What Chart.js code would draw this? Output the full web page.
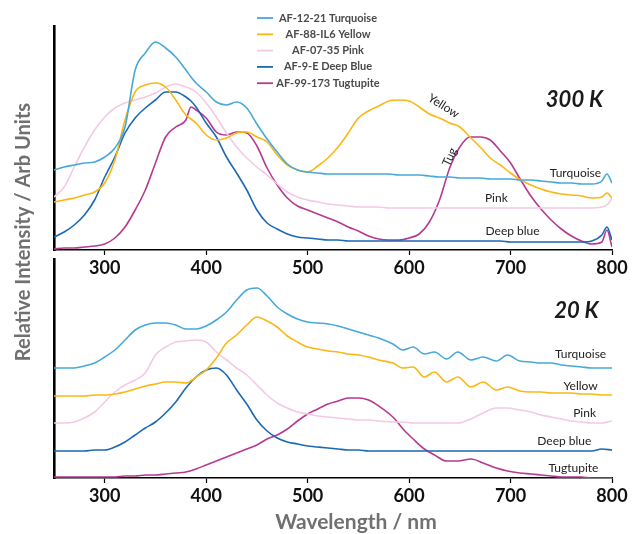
<!DOCTYPE html>
<html lang="en">
<head>
    <meta charset="UTF-8">
    <title>Luminescence spectra 300 K / 20 K</title>
    <script src="https://cdn.jsdelivr.net/npm/chart.js@4.4.0/dist/chart.umd.min.js"></script>
    <style>
        body { margin: 0; background: #fff; }
        #wrap { position: relative; width: 632px; height: 534px; }
        canvas { position: absolute; left: 0; top: 0; }
    </style>
</head>
<body>

<div id="wrap">
    <canvas id="low-chart" width="632" height="534"></canvas>
    <canvas id="top-chart" width="632" height="282"></canvas>
</div>

<script>

    // ---- data (arbitrary units) ----
    const xTicks = [300, 400, 500, 600, 700, 800];

    const seriesNames = ['AF-12-21 Turquoise', 'AF-88-IL6 Yellow', 'AF-07-35 Pink', 'AF-9-E Deep Blue', 'AF-99-173 Tugtupite'];

    // 300 K
    const wlTop = [250, 260, 270, 280, 290, 300, 310, 320, 330, 340, 350, 360, 370, 380, 385, 390,
        400, 410, 420, 430, 440, 450, 460, 470, 480, 490, 500, 510, 520, 530, 540, 550, 560, 570, 580, 590,
        600, 610, 620, 630, 640, 650, 660, 670, 680, 690, 700, 710, 720, 730, 740, 750, 760, 770, 780, 790, 795, 800];
    const turqTop = [80, 83, 85, 87, 88, 93, 102, 123, 180, 197, 208, 202, 193, 180, 173, 167,
        158, 148, 145, 148, 142, 126, 111, 98, 86, 80, 78, 77, 76, 76, 76, 76, 76, 76, 76, 75,
        75, 75, 74, 73, 73, 72, 72, 72, 71, 71, 71, 70, 70, 69, 68, 67, 67, 66, 66, 69, 76, 67];
    const yellowTop = [48, 50, 52, 55, 58, 67, 90, 130, 158, 165, 167, 163, 150, 135, 131, 127,
        115, 110, 112, 117, 118, 113, 108, 95, 85, 80, 78, 84, 92, 103, 117, 132, 139, 144, 149, 150,
        149, 143, 136, 132, 127, 123, 113, 103, 92, 85, 77, 70, 65, 61, 58, 56, 55, 54, 52, 53, 57, 52];
    const pinkTop = [53, 63, 83, 103, 120, 133, 142, 147, 150, 153, 157, 163, 166, 163, 161, 158,
        147, 133, 117, 103, 92, 83, 75, 66, 58, 53, 50, 48, 46, 45, 44, 43, 43, 43, 42, 42,
        42, 42, 42, 42, 42, 42, 42, 42, 42, 42, 42, 42, 42, 42, 42, 42, 42, 42, 42, 43, 45, 52];
    const blueTop = [13, 18, 25, 35, 50, 73, 93, 117, 132, 142, 150, 158, 158, 153, 149, 143,
        127, 113, 93, 77, 60, 40, 27, 21, 16, 13, 12, 11, 10, 10, 9, 9, 9, 9, 9, 9,
        9, 9, 9, 9, 9, 9, 9, 9, 9, 9, 8, 8, 8, 8, 8, 8, 8, 8, 9, 15, 23, 10];
    const tugTop = [1, 2, 2, 3, 4, 6, 12, 23, 40, 60, 87, 113, 123, 130, 143, 140,
        132, 118, 115, 118, 117, 104, 82, 65, 52, 44, 40, 36, 32, 28, 23, 19, 14, 11, 10, 10,
        12, 16, 28, 50, 82, 103, 113, 113, 110, 99, 87, 70, 54, 41, 30, 21, 14, 9, 6, 8, 20, 3];

    // 20 K
    const wlLow = [250, 260, 270, 280, 290, 300, 310, 320, 330, 340, 350, 360, 370, 380, 390,
        400, 410, 420, 430, 440, 450, 460, 470, 480, 490, 500, 510, 520, 530, 540, 550, 560, 570,
        584, 594, 604, 615, 625, 637, 648, 661, 673, 686, 697, 709,
        720, 730, 740, 750, 760, 770, 780, 790, 800];
    const turqLow = [110, 110, 110, 112, 115, 121, 128, 138, 148, 153, 155, 155, 153, 149, 149,
        152, 158, 166, 178, 188, 190, 182, 171, 164, 159, 156, 155, 154, 152, 149, 146, 143, 140,
        134, 128, 131, 124, 126, 119, 126, 118, 121, 117, 123, 117,
        116, 115, 115, 113, 112, 111, 110, 110, 110];
    const yellowLow = [82, 82, 82, 82, 83, 83, 84, 86, 89, 92, 94, 96, 96, 95, 101,
        108, 120, 135, 143, 153, 161, 157, 151, 142, 136, 131, 129, 127, 126, 124, 123, 121, 118,
        115, 110, 111, 101, 106, 96, 101, 91, 96, 88, 91, 87,
        86, 86, 85, 85, 85, 84, 84, 83, 83];
    const pinkLow = [55, 55, 56, 60, 66, 76, 86, 93, 98, 105, 123, 131, 136, 137, 138,
        136, 126, 118, 110, 103, 93, 83, 75, 70, 66, 64, 62, 61, 60, 59, 58, 58, 57,
        56, 56, 55, 55, 55, 55, 55, 59, 65, 70, 70, 68,
        66, 63, 61, 59, 57, 56, 55, 55, 57];
    const blueLow = [27, 27, 27, 27, 28, 28, 31, 36, 43, 50, 56, 65, 76, 90, 101,
        108, 110, 103, 88, 74, 58, 47, 40, 36, 34, 32, 31, 30, 29, 28, 28, 27, 27,
        27, 27, 27, 27, 27, 27, 27, 27, 27, 27, 27, 27,
        27, 27, 27, 27, 27, 27, 27, 29, 28];
    const tugLow = [1, 1, 1, 1, 1, 1, 1, 2, 2, 3, 3, 4, 5, 6, 9,
        13, 17, 21, 25, 29, 33, 39, 43, 49, 57, 64, 69, 74, 77, 80, 80, 78, 72,
        61, 49, 39, 29, 23, 17, 17, 19, 15, 10, 7, 5,
        4, 3, 2, 1, 1, 1, 0, 0, 0];

    // ---- styling ----
    const colors = ['#45a9da', '#fbb715', '#f4c9e4', '#1c68b4', '#b53a92'];
    const FONT = 'Lato, "Open Sans", sans-serif';

    const topNotes = [
        {text: 'Yellow', nm: 634, v: 144, rot: 32},
        {text: 'Tug', nm: 640, v: 93, rot: -65},
        {text: 'Turquoise', nm: 764, v: 77, rot: 0},
        {text: 'Pink', nm: 686, v: 52, rot: 0},
        {text: 'Deep blue', nm: 702, v: 19, rot: 0}
    ];
    const lowNotes = [
        {text: 'Turquoise', nm: 769, v: 124, rot: 0},
        {text: 'Yellow', nm: 769, v: 92, rot: 0},
        {text: 'Pink', nm: 773, v: 65, rot: 0},
        {text: 'Deep blue', nm: 753, v: 37, rot: 0},
        {text: 'Tugtupite', nm: 762, v: 10, rot: 0}
    ];

    function toPoints(xs, ys) {
        return xs.map((x, i) => ({x: x, y: ys[i]}));
    }

    function makeDatasets(xs, list) {
        return list.map((ys, i) => ({
            label: seriesNames[i],
            data: toPoints(xs, ys),
            borderColor: colors[i],
            borderWidth: 1.6,
            pointRadius: 0,
            cubicInterpolationMode: 'monotone',
            fill: false
        }));
    }

    function xScale(height) {
        return {
            type: 'linear',
            min: 250,
            max: 800,
            afterBuildTicks: s => { s.ticks = xTicks.map(v => ({value: v})); },
            afterFit: s => { s.height = height; },
            ticks: {
                color: '#111',
                padding: 2,
                maxRotation: 0,
                font: {family: FONT, size: 18, weight: 'bold'}
            },
            grid: {display: true, drawOnChartArea: false, drawTicks: true, tickLength: 5, tickColor: '#000', tickWidth: 1.2},
            border: {display: true, color: '#000', width: 1.6}
        };
    }

    function yScale(max) {
        return {
            type: 'linear',
            min: 0,
            max: max,
            ticks: {display: false},
            grid: {display: false, drawTicks: false},
            border: {display: true, color: '#000', width: 2.6},
            afterFit: s => { s.width = 0; }
        };
    }

    // curve names and temperature written on the panel
    const notesPlugin = {
        id: 'notes',
        afterDatasetsDraw(chart, args, opts) {
            const ctx = chart.ctx;
            const x = chart.scales.x, y = chart.scales.y;
            ctx.save();
            ctx.fillStyle = '#222';
            ctx.textAlign = 'center';
            ctx.textBaseline = 'middle';
            ctx.font = '12px ' + FONT;
            opts.notes.forEach(n => {
                ctx.save();
                ctx.translate(x.getPixelForValue(n.nm), y.getPixelForValue(n.v));
                ctx.rotate(n.rot * Math.PI / 180);
                ctx.fillText(n.text, 0, 0);
                ctx.restore();
            });
            ctx.fillStyle = '#1a1a1a';
            ctx.font = 'italic bold 22px ' + FONT;
            ctx.fillText(opts.temp.text, x.getPixelForValue(opts.temp.nm), y.getPixelForValue(opts.temp.v));
            ctx.restore();
        }
    };

    // legend stacked in the top panel
    const legendPlugin = {
        id: 'stackLegend',
        afterDraw(chart) {
            const ctx = chart.ctx;
            ctx.save();
            ctx.font = 'bold 11px ' + FONT;
            ctx.textAlign = 'center';
            ctx.textBaseline = 'middle';
            chart.data.datasets.forEach((ds, i) => {
                const yy = 18 + i * 16.3;
                ctx.strokeStyle = ds.borderColor;
                ctx.lineWidth = 1.8;
                ctx.beginPath();
                ctx.moveTo(257, yy);
                ctx.lineTo(273, yy);
                ctx.stroke();
                ctx.fillStyle = '#4a4a4a';
                ctx.fillText(ds.label, 328, yy);
            });
            ctx.restore();
        }
    };

    // shared axis titles, drawn on the full-height canvas
    const titlesPlugin = {
        id: 'axisTitles',
        afterDraw(chart) {
            const ctx = chart.ctx;
            ctx.save();
            ctx.fillStyle = '#707070';
            ctx.textAlign = 'center';
            ctx.textBaseline = 'middle';
            ctx.font = 'bold 21px ' + FONT;
            ctx.fillText('Wavelength / nm', 356, 522);
            ctx.font = 'bold 20px ' + FONT;
            ctx.translate(24, 232);
            ctx.rotate(-Math.PI / 2);
            ctx.fillText('Relative Intensity / Arb Units', 0, 0);
            ctx.restore();
        }
    };

    function drawPanel(id, xs, list, yMax, padTop, axisHeight, notes, temp, extra) {
        new Chart(id, {
            type: 'line',
            data: {datasets: makeDatasets(xs, list)},
            options: {
                responsive: false,
                animation: false,
                layout: {padding: {left: 54, right: 20, top: padTop, bottom: 0}},
                scales: {x: xScale(axisHeight), y: yScale(yMax)},
                plugins: {
                    legend: {display: false},
                    tooltip: {enabled: false},
                    notes: {notes: notes, temp: temp}
                }
            },
            plugins: [notesPlugin].concat(extra)
        });
    }

    drawPanel('low-chart', wlLow, [turqLow, yellowLow, pinkLow, blueLow, tugLow], 219, 259, 56,
        lowNotes, {text: '20 K', nm: 765, v: 167}, [titlesPlugin]);
    drawPanel('top-chart', wlTop, [turqTop, yellowTop, pinkTop, blueTop, tugTop], 224, 26, 32,
        topNotes, {text: '300 K', nm: 763, v: 150}, [legendPlugin]);

</script>

</body>
</html>
